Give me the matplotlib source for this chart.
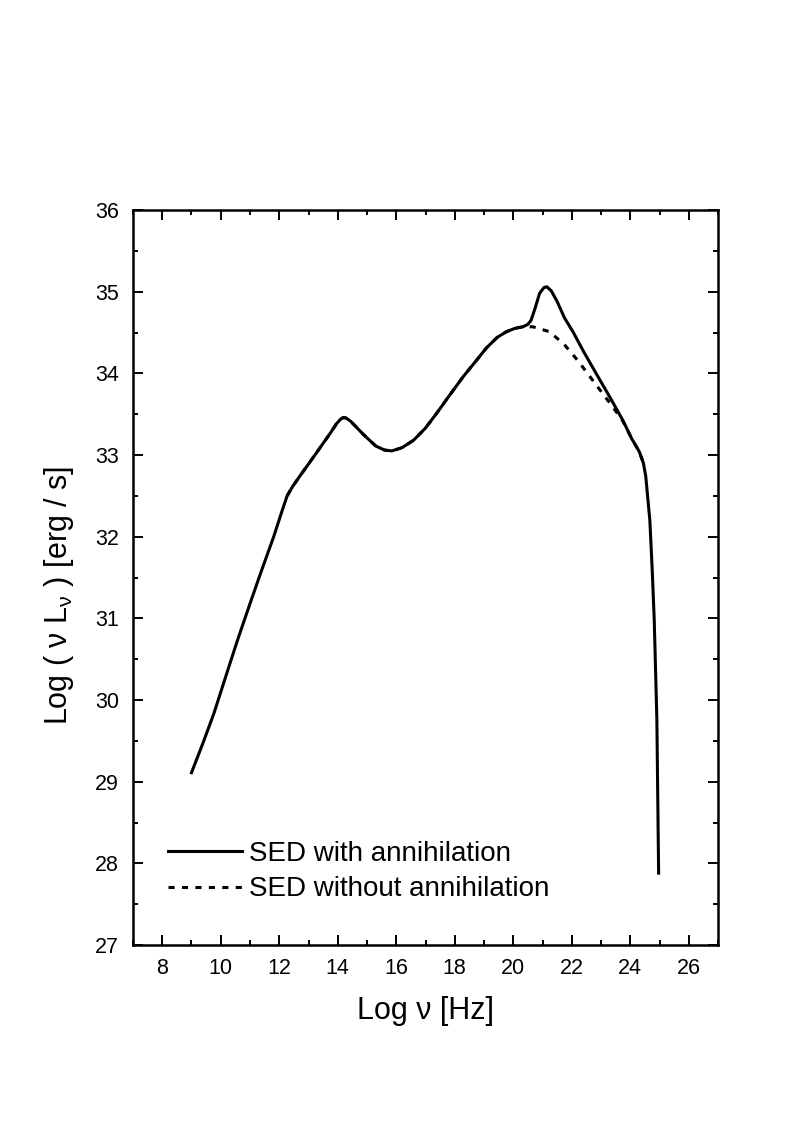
import matplotlib
matplotlib.use('Agg')
import matplotlib.pyplot as plt
from matplotlib.ticker import MultipleLocator

#---DATA---
# SED with annihilation: log nu [Hz] vs log(nu L_nu) [erg/s]
nu_with = [9.0, 9.4, 9.77, 10.2, 10.57, 11.0, 11.36, 11.81, 12.1, 12.27,
	12.45, 12.7, 13.2, 13.75, 13.95, 14.1, 14.2, 14.3, 14.45, 14.88,
	15.3, 15.6, 15.85, 16.2, 16.59, 17.0, 17.38, 17.8, 18.29, 18.7,
	19.08, 19.45, 19.77, 20.05, 20.33, 20.5, 20.61, 20.75, 20.9, 21.05,
	21.15, 21.3, 21.5, 21.75, 22.04, 22.4, 22.83, 23.3, 23.74, 24.05,
	24.31, 24.45, 24.53, 24.6, 24.67, 24.75, 24.82, 24.91, 24.97]
lum_with = [29.11, 29.48, 29.84, 30.32, 30.73, 31.18, 31.55, 32.0, 32.32, 32.5,
	32.61, 32.74, 32.99, 33.27, 33.38, 33.44, 33.46, 33.45, 33.41, 33.25,
	33.11, 33.06, 33.05, 33.09, 33.18, 33.33, 33.51, 33.72, 33.96, 34.14,
	34.31, 34.44, 34.51, 34.55, 34.57, 34.6, 34.65, 34.8, 34.98, 35.05,
	35.06, 35.01, 34.88, 34.68, 34.51, 34.27, 34.0, 33.71, 33.43, 33.2,
	33.04, 32.9, 32.74, 32.47, 32.2, 31.6, 30.98, 29.76, 27.88]

# SED without annihilation
nu_without = [12.27, 12.45, 12.7, 13.2, 13.75, 13.95, 14.1, 14.2, 14.3, 14.45,
	14.88, 15.3, 15.6, 15.85, 16.2, 16.59, 17.0, 17.38, 17.8, 18.29,
	18.7, 19.08, 19.45, 19.77, 20.05, 20.33, 20.67, 21.24, 21.75, 22.2,
	22.6, 23.0, 23.4, 23.74, 24.05, 24.31, 24.45]
lum_without = [32.5, 32.61, 32.74, 32.99, 33.27, 33.38, 33.44, 33.46, 33.45, 33.41,
	33.25, 33.11, 33.06, 33.05, 33.09, 33.18, 33.33, 33.51, 33.72, 33.96,
	34.14, 34.31, 34.44, 34.51, 34.55, 34.57, 34.57, 34.51, 34.35, 34.16,
	33.97, 33.78, 33.59, 33.42, 33.2, 33.04, 32.9]

labels = ['SED with annihilation', 'SED without annihilation']

#---FIGURE---
plt.rcParams['font.family'] = ['Liberation Sans', 'DejaVu Sans']
plt.rcParams['mathtext.default'] = 'regular'
plt.rcParams['xtick.labelsize'] = 15.5
plt.rcParams['ytick.labelsize'] = 15.5

fig = plt.figure(figsize=(7.88, 11.34), dpi=100)
ax = fig.add_axes([133/788, 189/1134, 585/788, 735/1134])

#---PLOT---
ax.plot(nu_without, lum_without, color='black', lw=2.2,
	linestyle=(0, (2.0, 2.4)), label=labels[1], zorder=2)
ax.plot(nu_with, lum_with, color='black', lw=2.2,
	label=labels[0], zorder=3)

#---AXES---
ax.set_xlim(7, 27)
ax.set_ylim(27, 36)
ax.xaxis.set_major_locator(MultipleLocator(2))
ax.xaxis.set_minor_locator(MultipleLocator(1))
ax.yaxis.set_major_locator(MultipleLocator(1))
ax.yaxis.set_minor_locator(MultipleLocator(0.5))
ax.set_xticks(range(8, 27, 2))

ax.tick_params(which='both', direction='in', top=True, right=True, width=1.4)
ax.tick_params(which='major', length=7.2)
ax.tick_params(which='minor', length=3.8)
ax.tick_params(axis='x', which='major', pad=9.5)
ax.tick_params(axis='y', which='major', pad=10)
for pos in ['right', 'top', 'bottom', 'left']:
	ax.spines[pos].set_linewidth(1.8)

ax.set_xlabel('Log ν [Hz]', fontsize=22, labelpad=12)
ax.set_ylabel('Log ( ν L$_{ν}$ ) [erg / s]', fontsize=22)
ax.yaxis.set_label_coords(-0.097, 0.475)

#---LEGEND---
handles, labs = ax.get_legend_handles_labels()
ax.legend(handles[::-1], labs[::-1], loc='lower left',
	bbox_to_anchor=(0.06, 0.058), frameon=False, fontsize=20,
	handlelength=2.66, handletextpad=0.25, labelspacing=0.335,
	borderpad=0, borderaxespad=0)

fig.savefig('out.png', dpi=100)
